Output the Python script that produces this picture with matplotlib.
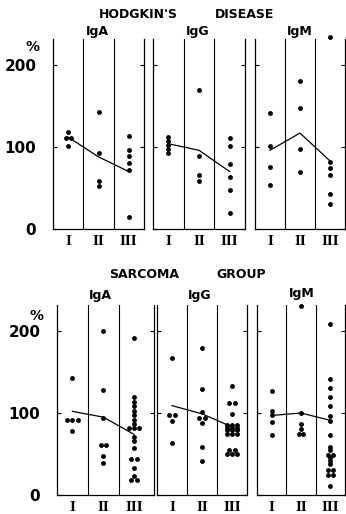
import matplotlib
matplotlib.use("Agg")
import matplotlib.pyplot as plt
from collections import Counter, defaultdict

# stage labels and values (% of normal)
stages = ["I", "II", "III"]

hd_iga = [[118, 111, 111, 101], [143, 93, 58, 53], [114, 96, 89, 80, 72, 15]]
hd_igg = [[112, 107, 102, 97, 93], [170, 89, 66, 58], [111, 101, 79, 63, 47, 19]]
hd_igm = [[142, 101, 76, 54], [181, 148, 97, 70], [234, 82, 75, 66, 43, 31]]
hd_iga_mean = [112, 88, 70]
hd_igg_mean = [104, 96, 70]
hd_igm_mean = [96, 117, 83]

sa_iga = [[143, 91, 91, 91, 78],
          [200, 128, 94, 61, 61, 48, 39],
          [192, 120, 113, 108, 102, 97, 92, 87, 82, 82, 82, 71, 66, 57, 44, 44, 33, 23, 18, 18]]
sa_igg = [[167, 98, 98, 90, 64],
          [179, 129, 101, 94, 94, 88, 59, 41],
          [133, 112, 112, 99, 85, 85, 85, 82, 82, 82, 79, 79, 79, 75, 75, 75, 55, 55, 50, 50, 50]]
sa_igm = [[127, 102, 97, 89, 73],
          [230, 100, 86, 80, 74, 74],
          [209, 142, 130, 120, 108, 96, 90, 73, 59, 55, 49, 49, 45, 41, 38, 30, 30, 24, 24, 11]]
sa_iga_mean = [102, 95, 74]
sa_igg_mean = [109, 99, 83]
sa_igm_mean = [97, 100, 91]

W, H = 346, 514
fig = plt.figure(figsize=(W / 100, H / 100), dpi=100)

sans = "DejaVu Sans"
serif = "Liberation Serif"


def spread(vals, center, step=0.17):
    # put equal values side by side
    counts = Counter(vals)
    seen = defaultdict(int)
    xs = []
    for v in vals:
        n = counts[v]
        k = seen[v]
        seen[v] += 1
        xs.append(center + (k - (n - 1) / 2) * step)
    return xs


def panel(left, right, bottom, top, cols, means, xmax, first):
    ax = fig.add_axes([left / W, 1 - bottom / H, (right - left) / W, (bottom - top) / H])
    ax.set_xlim(0, xmax)
    ax.set_ylim(0, 232)
    ax.spines["top"].set_visible(False)
    for s in ["left", "right", "bottom"]:
        ax.spines[s].set_linewidth(0.9)
    ax.axvline(1, color="black", lw=0.8)
    ax.axvline(2, color="black", lw=0.8)
    for i, vals in enumerate(cols):
        ax.plot(spread(vals, i + 0.5), vals, "o", color="black", ms=3.5, mew=0, clip_on=False)
    ax.plot([0.5, 1.5, 2.5], means, color="black", lw=0.9)
    ax.set_yticks([0, 100, 200])
    ax.tick_params(axis="y", direction="in", length=3, width=0.8, left=True, right=True,
                   labelleft=first, pad=12)
    if first:
        ax.set_yticklabels(["0", "100", "200"], fontsize=11, fontweight="bold", family=sans)
    ax.set_xticks([0.5, 1.5, 2.5])
    ax.set_xticklabels(stages, fontsize=11, fontweight="bold", family=serif)
    ax.tick_params(axis="x", length=0, pad=4)
    return ax


# top row: Hodgkin's disease
top_b, top_t = 229, 229 - 232 * 0.82
panel(53, 144, top_b, top_t, hd_iga, hd_iga_mean, 3, True)
panel(153, 245, top_b, top_t, hd_igg, hd_igg_mean, 3, False)
panel(255, 345, top_b, top_t, hd_igm, hd_igm_mean, 3, False)

# bottom row: sarcoma group
bot_b, bot_t = 495, 495 - 232 * 0.82
panel(57, 154, bot_b, bot_t, sa_iga, sa_iga_mean, 3.15, True)
panel(157, 247, bot_b, bot_t, sa_igg, sa_igg_mean, 3, False)
panel(257, 345, bot_b, bot_t, sa_igm, sa_igm_mean, 3, False)


def label(x, y, s, size=9):
    fig.text(x / W, 1 - y / H, s, ha="center", va="center", fontsize=size,
             fontweight="bold", family=sans)


label(138, 15, "HODGKIN'S")
label(245, 15, "DISEASE")
label(97, 32, "IgA")
label(198, 32, "IgG")
label(300, 31, "IgM")
label(32, 47, "%", 10)

label(144, 275, "SARCOMA")
label(241, 275, "GROUP")
label(100, 295, "IgA")
label(200, 295, "IgG")
label(302, 293, "IgM")
label(36, 316, "%", 10)

fig.savefig("out.png", dpi=100)
